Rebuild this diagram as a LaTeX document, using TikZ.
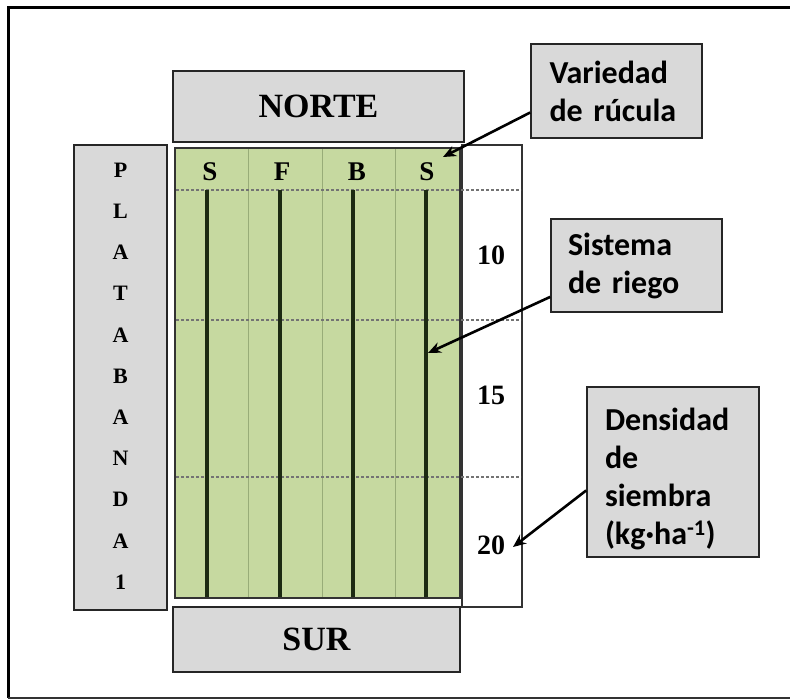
\documentclass[tikz,border=0pt]{standalone}
\usepackage{fontspec}
\setmainfont{Liberation Serif}
\newfontfamily\callfont{Carlito}
\usetikzlibrary{arrows.meta,calc}
\definecolor{boxgray}{HTML}{D9D9D9}
\definecolor{fieldgreen}{HTML}{C6D9A0}
\definecolor{divgreen}{HTML}{98AC78}
\definecolor{rowdark}{HTML}{1C2A12}
\tikzset{
  graybox/.style={draw=black!85, line width=1.6pt, fill=boxgray, inner sep=0pt},
  callbox/.style={draw=black!85, line width=1.6pt, fill=boxgray, inner sep=0pt, align=left,
    font=\callfont\bfseries\fontsize{32}{38}\selectfont},
  serifbig/.style={font=\bfseries\fontsize{34}{38}\selectfont},
  rowlab/.style={font=\bfseries\fontsize{27}{30}\selectfont},
  numlab/.style={font=\bfseries\fontsize{28}{32}\selectfont},
  riego/.style={draw=rowdark, line width=3.6pt},
  divline/.style={draw=divgreen, line width=1pt},
  rowsep/.style={draw=black!55, line width=1.4pt, dash pattern=on 3pt off 2pt},
  callarrow/.style={draw=black, line width=2.6pt, -{Stealth[length=13pt,width=11pt]}}
}
\begin{document}
\begin{tikzpicture}[x=1pt,y=-1pt]
\useasboundingbox (0,0) rectangle (790,700);
\fill[white] (0,0) rectangle (790,700);
% outer frame (no right side)
\draw[line width=3pt, black] (790,8) -- (8,8) -- (8,698);
\draw[line width=2.2pt, black!80] (8,698) -- (790,698);

% field
\node[draw=black!80, line width=1.4pt, fill=fieldgreen, minimum width=285pt, minimum height=450pt, inner sep=0pt] (field) at (317.5,373) {};
% right column
\node[draw=black!80, line width=1.4pt, fill=white, minimum width=60pt, minimum height=462pt, inner sep=0pt] (rcol) at (492,376) {};
% dividers
\foreach \x in {248,322,395} \draw[divline] (\x,149) -- (\x,597);
% dashed row separators
\foreach \y in {190,320,477} \draw[rowsep] (176,\y) -- (521,\y);
% riego lines
\foreach \x in {207,280,353,426} \draw[riego] (\x,190) -- (\x,597);
% redraw field border right edge
\draw[black!80, line width=1.4pt] (460,147) -- (460,599);

% row labels
\node[rowlab] (s1) at (210,172) {S};
\node[rowlab] (f) at (282,172) {F};
\node[rowlab] (b) at (357,172) {B};
\node[rowlab] (s2) at (427,172) {S};

% numbers
\node[numlab] (n10) at (491,255) {10};
\node[numlab] (n15) at (491,395) {15};
\node[numlab] (n20) at (491,545) {20};

% north / south
\node[graybox, serifbig, minimum width=291pt, minimum height=71pt] (norte) at (318.5,106.5) {NORTE};
\node[graybox, serifbig, minimum width=287pt, minimum height=65pt] (sur) at (316.5,639.5) {SUR};

% platabanda
\node[graybox, minimum width=93pt, minimum height=465pt] (plat) at (120.5,377.5) {};
\node[align=center, font=\bfseries\fontsize{22}{41.2}\selectfont, inner sep=0pt] (platlab) at (120.5,376) {P\\L\\A\\T\\A\\B\\A\\N\\D\\A\\1};

% callouts
\node[callbox, minimum width=171pt, minimum height=94pt, text width=134pt] (var) at (616.5,91) {Variedad\\de rúcula};
\node[callbox, minimum width=171pt, minimum height=93pt, text width=137pt] (sis) at (636.5,265.5) {Sistema\\de riego};
\node[callbox, minimum width=172pt, minimum height=170pt, text width=136pt] (den) at (673,472) {\rule{0pt}{36pt}Densidad\\de\\siembra\\(kg·ha\textsuperscript{-1})};

\coordinate (tipvar) at (443,157);
\coordinate (tipsis) at (428,353);
\coordinate (tipden) at (513,547);
\draw[callarrow] (var.194) -- (tipvar);
\draw[callarrow] (sis.200) -- (tipsis);
\draw[callarrow] (den.192) -- (tipden);
\end{tikzpicture}
\end{document}
